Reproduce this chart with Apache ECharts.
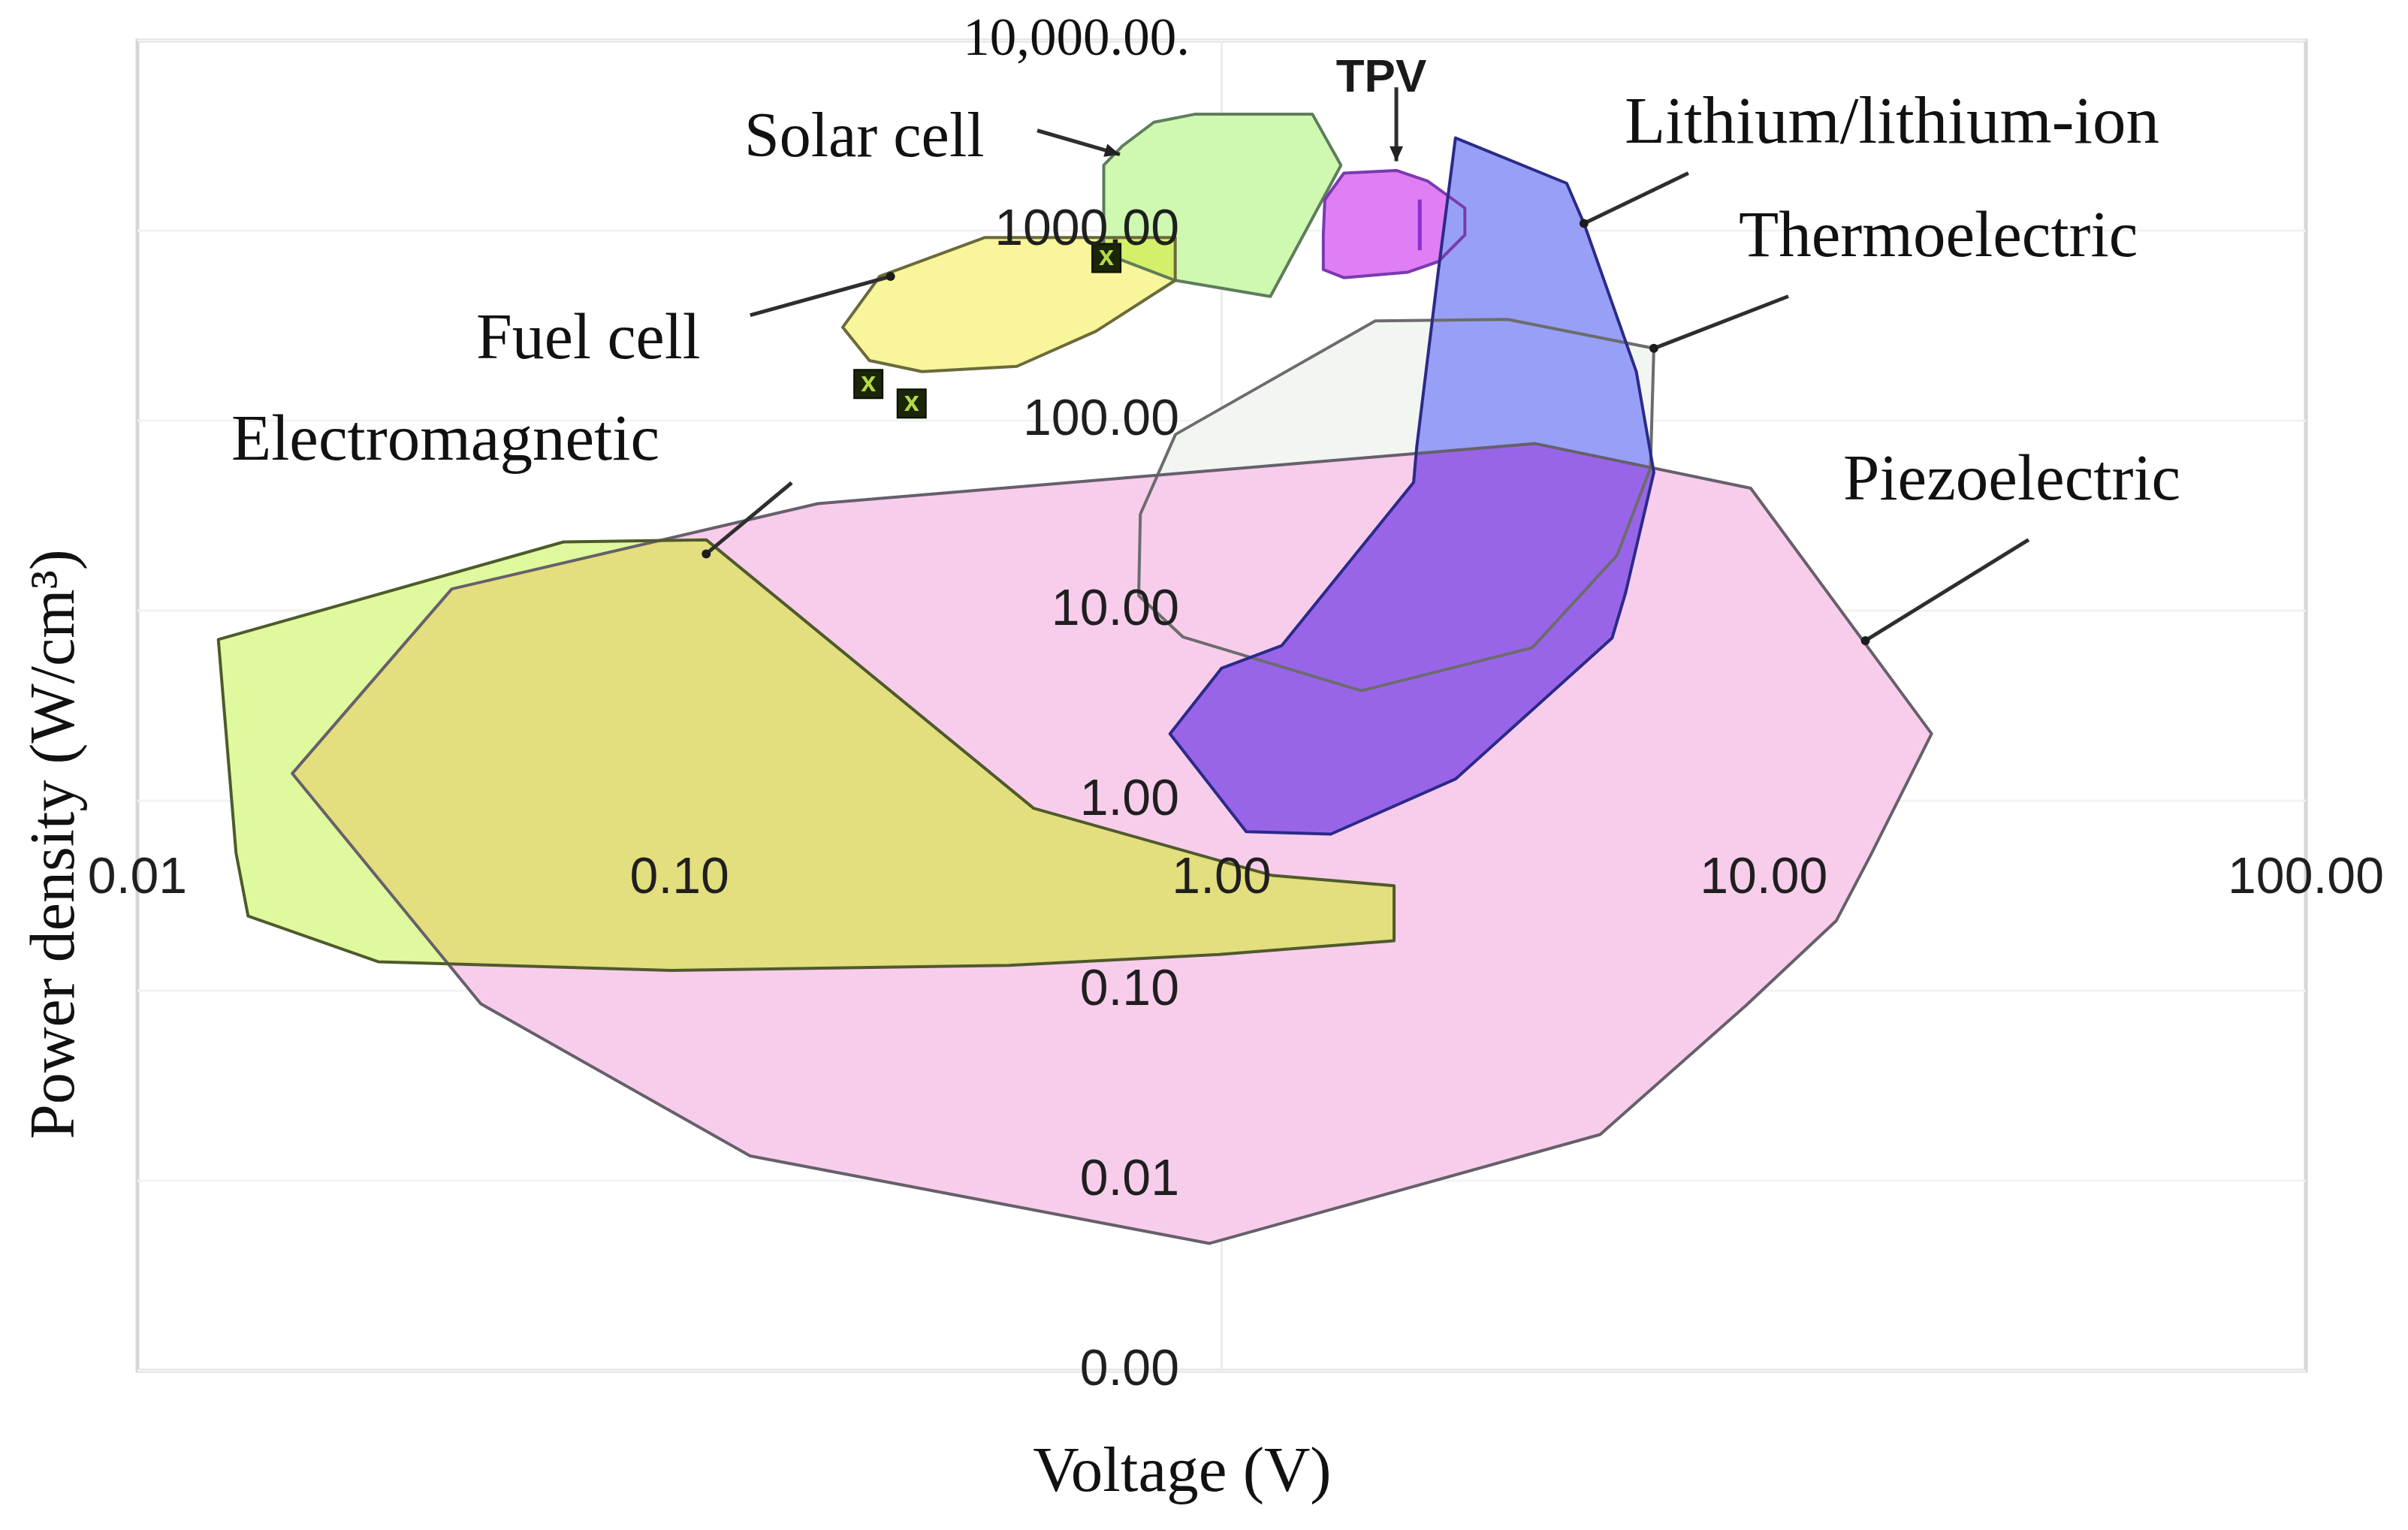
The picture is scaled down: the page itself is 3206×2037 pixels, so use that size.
<!DOCTYPE html>
<html><head><meta charset="utf-8">
<script src="https://cdn.jsdelivr.net/npm/echarts/dist/echarts.min.js"></script>
<style>html,body{margin:0;padding:0;background:#fff}#c{width:3206px;height:2037px}</style>
</head><body><div id="c"></div>
<script>
// Axis ticks (Voltage V / Power density W/cm3)
const xTicks = [0.01, 0.1, 1, 10, 100];
const yTicks = [0.001, 0.01, 0.1, 1, 10, 100, 1000, 10000];

// Region outlines: [voltage (V), power density (W/cm3)]
const piezoelectric = [[0.038,13.0],[0.180,36.6],[3.79,75.7],[9.46,44.1],[20.4,2.25],[15.7,0.508],[13.6,0.233],[9.27,0.0836],[4.99,0.0175],[0.95,0.00468],[0.135,0.0135],[0.043,0.0853],[0.0193,1.39]];
const electromagnetic = [[0.0141,7.05],[0.0611,23.0],[0.112,23.6],[0.450,0.912],[1.24,0.404],[2.08,0.357],[2.08,0.183],[0.99,0.155],[0.405,0.136],[0.0965,0.128],[0.0278,0.142],[0.0160,0.247],[0.0152,0.531]];
const thermoelectric = [[1.92,335],[3.37,341],[6.27,240],[6.18,56.2],[5.36,19.5],[3.74,6.38],[1.81,3.79],[0.849,7.26],[0.703,12.0],[0.708,32.2],[0.822,84.6]];
const lithium = [[2.70,3076],[4.33,1774],[4.66,1091],[5.82,181],[6.27,53.5],[5.56,12.4],[5.25,7.17],[2.70,1.30],[1.59,0.667],[1.11,0.687],[0.803,2.25],[1.00,4.98],[1.29,6.54],[2.26,47.3],[2.29,72.5],[2.51,612]];
const solarCell = [[0.606,2208],[0.655,2777],[0.750,3717],[0.895,4103],[1.47,4103],[1.66,2208],[1.23,450],[0.821,547],[0.606,760]];
const fuelCell = [[0.200,310],[0.234,574],[0.366,920],[0.821,920],[0.821,547],[0.586,295],[0.419,193],[0.280,181],[0.224,207]];
const tpv = [[1.68,2005],[2.10,2073],[2.40,1820],[2.81,1314],[2.81,949],[2.51,687],[2.20,603],[1.68,565],[1.54,624],[1.54,949],[1.55,1456]];
const tpvMark = [[2.32,1456],[2.32,788]];
const fuelMarkers = [[0.613,718],[0.223,156],[0.268,123]];

// Annotation pointer lines: [from, to]
const solarArrow = [[0.457,3363],[0.649,2515]];
const tpvArrow = [[2.10,5675],[2.10,2318]];
const lithiumArrow = [[7.26,2005],[4.66,1091]];
const thermoArrow = [[11.1,451],[6.27,240]];
const fuelArrow = [[0.135,359],[0.245,574]];
const emArrow = [[0.161,47.1],[0.112,19.9]];
const piezoArrow = [[30.8,23.6],[15.4,6.95]];

const SANS = '"Liberation Sans", Arial, sans-serif';
const SERIF = '"Liberation Serif", "Times New Roman", serif';

function clipPoly(subject, clip) {
  let area = 0;
  for (let i = 0; i < clip.length; i++) {
    const a = clip[i], b = clip[(i + 1) % clip.length];
    area += a[0] * b[1] - b[0] * a[1];
  }
  const s = area > 0 ? 1 : -1;
  let output = subject.slice();
  for (let i = 0; i < clip.length; i++) {
    const a = clip[i], b = clip[(i + 1) % clip.length];
    const input = output; output = [];
    if (!input.length) break;
    const inside = p => s * ((b[0] - a[0]) * (p[1] - a[1]) - (b[1] - a[1]) * (p[0] - a[0])) >= 0;
    const inter = (p, q) => {
      const a1 = b[1] - a[1], b1 = a[0] - b[0], c1 = a1 * a[0] + b1 * a[1];
      const a2 = q[1] - p[1], b2 = p[0] - q[0], c2 = a2 * p[0] + b2 * p[1];
      const det = a1 * b2 - a2 * b1;
      return [(b2 * c1 - b1 * c2) / det, (a1 * c2 - a2 * c1) / det];
    };
    for (let j = 0; j < input.length; j++) {
      const cur = input[j], prev = input[(j + input.length - 1) % input.length];
      const ci = inside(cur), pi = inside(prev);
      if (ci) { if (!pi) output.push(inter(prev, cur)); output.push(cur); }
      else if (pi) output.push(inter(prev, cur));
    }
  }
  return output;
}

function fillSeries(pts, color, z) {
  return { type: 'custom', coordinateSystem: 'cartesian2d', data: pts, silent: true, animation: false, z: z || 2,
    renderItem(params, api) {
      if (params.dataIndex !== 0) return null;
      return { type: 'polygon', shape: { points: pts.map(p => api.coord(p)) }, style: { fill: color, stroke: null } };
    } };
}
function overlapSeries(subject, clip, color) {
  return { type: 'custom', coordinateSystem: 'cartesian2d', data: subject, silent: true, animation: false, z: 2,
    renderItem(params, api) {
      if (params.dataIndex !== 0) return null;
      const poly = clipPoly(subject.map(p => api.coord(p)), clip.map(p => api.coord(p)));
      if (poly.length < 3) return null;
      return { type: 'polygon', shape: { points: poly }, style: { fill: color, stroke: null } };
    } };
}
function outlineSeries(pts, color, w) {
  return { type: 'custom', coordinateSystem: 'cartesian2d', data: pts, silent: true, animation: false, z: 3,
    renderItem(params, api) {
      if (params.dataIndex !== 0) return null;
      return { type: 'polygon', shape: { points: pts.map(p => api.coord(p)) },
        style: { fill: 'none', stroke: color, lineWidth: w || 4, lineJoin: 'round' } };
    } };
}
function arrowSeries(pts, head) {
  return { type: 'custom', coordinateSystem: 'cartesian2d', data: pts, silent: true, animation: false, z: 4,
    renderItem(params, api) {
      if (params.dataIndex !== 0) return null;
      const p0 = api.coord(pts[0]), p1 = api.coord(pts[1]);
      const children = [{ type: 'line', shape: { x1: p0[0], y1: p0[1], x2: p1[0], y2: p1[1] },
        style: { stroke: '#2e2e2e', lineWidth: 5 } }];
      if (head === 'arrow') {
        const dx = p1[0] - p0[0], dy = p1[1] - p0[1], L = Math.hypot(dx, dy);
        const ux = dx / L, uy = dy / L, len = 20, hw = 9;
        children.push({ type: 'polygon', shape: { points: [
          [p1[0], p1[1]],
          [p1[0] - ux * len - uy * hw, p1[1] - uy * len + ux * hw],
          [p1[0] - ux * len + uy * hw, p1[1] - uy * len - ux * hw]] },
          style: { fill: '#222' } });
      } else {
        children.push({ type: 'circle', shape: { cx: p1[0], cy: p1[1], r: 6 }, style: { fill: '#1c1c1c' } });
      }
      return { type: 'group', children };
    } };
}
const gridSeries = { type: 'custom', coordinateSystem: 'cartesian2d', data: yTicks.map(v => [1, v]),
  silent: true, animation: false, z: 1,
  renderItem(params, api) {
    const v = yTicks[params.dataIndex];
    const a = api.coord([xTicks[0], v]), b = api.coord([xTicks[xTicks.length - 1], v]);
    const children = [{ type: 'line', shape: { x1: a[0], y1: a[1], x2: b[0], y2: b[1] }, style: { stroke: '#f3f3f3', lineWidth: 3 } }];
    if (params.dataIndex === 0) {
      const c = api.coord([1, yTicks[0]]), d = api.coord([1, yTicks[yTicks.length - 1]]);
      children.push({ type: 'line', shape: { x1: c[0], y1: c[1], x2: d[0], y2: d[1] }, style: { stroke: '#ececec', lineWidth: 3 } });
    }
    return { type: 'group', children };
  } };
const tpvMarkSeries = { type: 'custom', coordinateSystem: 'cartesian2d', data: tpvMark, silent: true, animation: false, z: 3,
  renderItem(params, api) {
    if (params.dataIndex !== 0) return null;
    const a = api.coord(tpvMark[0]), b = api.coord(tpvMark[1]);
    return { type: 'line', shape: { x1: a[0], y1: a[1], x2: b[0], y2: b[1] }, style: { stroke: '#8a2fd0', lineWidth: 5 } };
  } };

const chart = echarts.init(document.getElementById('c'), null, { renderer: 'canvas' });
const txt = (t, x, y, size, family, extra) => Object.assign({
  type: 'text', x, y, z: 100,
  style: Object.assign({ text: t, fontSize: size, fontFamily: family, fontWeight: 'normal', fill: '#111',
    align: 'left', textAlign: 'left', verticalAlign: 'middle', textVerticalAlign: 'middle' }, extra && extra.style || {})
}, extra && extra.el || {});

chart.setOption({
  backgroundColor: '#ffffff',
  animation: false,
  grid: { left: 183, right: 136, top: 54, bottom: 212, show: true, borderColor: '#d6d6d6', borderWidth: 5,
    backgroundColor: 'transparent', containLabel: false, outerBoundsMode: 'none' },
  xAxis: {
    type: 'log', logBase: 10, min: xTicks[0], max: xTicks[xTicks.length - 1], splitNumber: 10,
    offset: -759, z: 50,
    axisLine: { show: false }, axisTick: { show: false }, splitLine: { show: false },
    axisLabel: { margin: 104, verticalAlign: 'middle', fontFamily: SANS, fontSize: 68, color: '#1f1f1f',
      formatter: v => Number(v).toFixed(2) }
  },
  yAxis: {
    type: 'log', logBase: 10, min: yTicks[0], max: yTicks[yTicks.length - 1], splitNumber: 10,
    offset: -1443, z: 50,
    axisLine: { show: false }, axisTick: { show: false }, splitLine: { show: false },
    axisLabel: { margin: 56, fontFamily: SANS, fontSize: 68, color: '#1f1f1f',
      formatter: v => Math.abs(v - 10000) < 1 ? '{s|10,000.00.}' : Number(v).toFixed(2),
      rich: { s: { fontFamily: SERIF, fontSize: 71, color: '#111', padding: [0, -14, 0, 0] } } }
  },
  series: [
    gridSeries,
    fillSeries(thermoelectric, '#f2f6f1'),
    fillSeries(piezoelectric, '#f8cdec'),
    fillSeries(electromagnetic, '#dffa9e'),
    overlapSeries(electromagnetic, piezoelectric, '#e3de7e'),
    fillSeries(tpv, '#e07ff4'),
    fillSeries(lithium, '#97a0f6'),
    overlapSeries(lithium, piezoelectric, '#9865e8'),
    fillSeries(solarCell, '#cff8b0'),
    fillSeries(fuelCell, '#f8f59a'),
    overlapSeries(fuelCell, solarCell, '#d4ef6a'),
    outlineSeries(thermoelectric, '#6c6c6c'),
    outlineSeries(piezoelectric, '#66606a'),
    outlineSeries(electromagnetic, '#4f5a2c'),
    outlineSeries(solarCell, '#5f7d5c'),
    outlineSeries(fuelCell, '#6a6a3c'),
    outlineSeries(tpv, '#7a3ab0'),
    outlineSeries(lithium, '#2c2a88'),
    tpvMarkSeries,
    { type: 'scatter', data: fuelMarkers, symbol: 'rect', symbolSize: 38, z: 4, silent: true, animation: false,
      itemStyle: { color: '#1b2508', borderColor: '#0b1003', borderWidth: 2, opacity: 1 },
      label: { show: true, position: 'inside', formatter: 'x', color: '#b3da48', fontFamily: SANS, fontSize: 36, fontWeight: 'bold' } },
    arrowSeries(solarArrow, 'arrow'),
    arrowSeries(tpvArrow, 'arrow'),
    arrowSeries(lithiumArrow, 'dot'),
    arrowSeries(thermoArrow, 'dot'),
    arrowSeries(fuelArrow, 'dot'),
    arrowSeries(emArrow, 'dot'),
    arrowSeries(piezoArrow, 'dot')
  ],
  graphic: [
    txt('Solar cell', 991, 186, 84, SERIF),
    txt('TPV', 1839, 105, 62, SANS, { style: { align: 'center', textAlign: 'center', fill: '#1a1a1a', fontWeight: 'bold' } }),
    txt('Lithium/lithium-ion', 2163, 167, 89, SERIF),
    txt('Thermoelectric', 2315, 318, 87, SERIF),
    txt('Fuel cell', 634, 454, 86, SERIF),
    txt('Electromagnetic', 308, 589, 87, SERIF),
    txt('Piezoelectric', 2454, 642, 87, SERIF),
    txt('Voltage (V)', 1574, 1963, 85, SERIF, { style: { align: 'center', textAlign: 'center' } }),
    txt('Power density (W/cm³)', 0, 0, 84, SERIF, { style: { align: 'center', textAlign: 'center' },
      el: { x: 76, y: 1124, rotation: Math.PI / 2 } })
  ]
});
</script>
</body></html>
